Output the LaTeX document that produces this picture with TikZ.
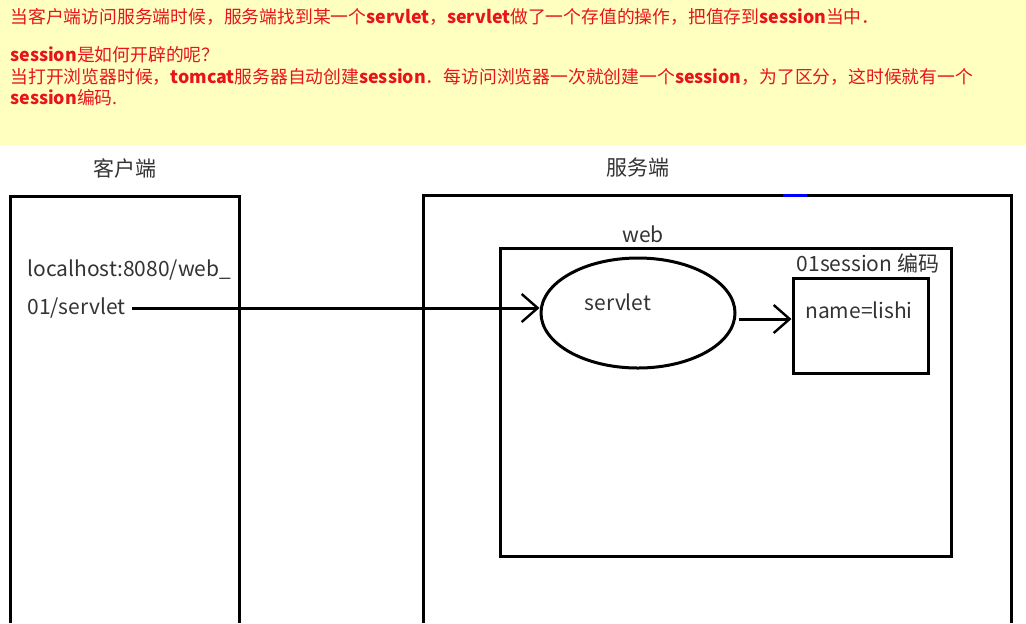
\documentclass[tikz,border=0pt]{standalone}
\usepackage{fontspec}
\setmainfont{Noto Sans CJK SC}
\newfontfamily\cjk{Noto Sans CJK SC}
\usetikzlibrary{arrows.meta,shapes.geometric}
\definecolor{notebg}{HTML}{FFFFC0}
\definecolor{notered}{HTML}{E8141C}
\newcommand{\kw}[1]{{\bfseries #1}}
\tikzset{
  box/.style={draw, line width=1.5pt},
  lbl/.style={font=\fontsize{10.5}{12}\selectfont, text=black!80, inner sep=0pt},
  note/.style={font=\fontsize{8.9}{10}\selectfont, text=notered, inner sep=0pt, anchor=west},
  link/.style={line width=1.5pt, -{Straight Barb[length=8pt,width=14pt,line width=1.2pt]}}
}
\begin{document}
\begin{tikzpicture}[x=0.5pt,y=-0.5pt]
  \useasboundingbox (0,0) rectangle (1026,623);
  \fill[notebg] (0,0) rectangle (1026,145);

  % note text
  \node[note] (n1) at (10,17) {当客户端访问服务端时候，服务端找到某一个\kw{servlet}，\kw{servlet}做了一个存值的操作，把值存到\kw{session}当中．};
  \node[note] (n2) at (10,55) {\kw{session}是如何开辟的呢？};
  \node[note] (n3) at (10,77) {当打开浏览器时候，\kw{tomcat}服务器自动创建\kw{session}．每访问浏览器一次就创建一个\kw{session}，为了区分，这时候就有一个};
  \node[note] (n4) at (10,98) {\kw{session}编码.};

  % client
  \node[lbl] (clientlbl) at (125,168) {客户端};
  \draw[line width=1.5pt] (10,623) -- (10,196) -- (239,196) -- (239,623);
  \node[lbl, anchor=west] (url1) at (27,270) {localhost:8080/web\_};
  \node[lbl, anchor=west] (url2) at (27,308) {01/servlet};

  % server
  \node[lbl] (serverlbl) at (638,168) {服务端};
  \draw[line width=1.5pt] (423,623) -- (423,195) -- (1011,195) -- (1011,623);
  \draw[blue, line width=1.5pt] (783,195) -- (807,195);
  \node[lbl] (weblbl) at (643,234) {web};
  \draw[box] (500,248) rectangle (951,556);
  \node[lbl] (sidlbl) at (868,263) {01session 编码};
  \node[box, minimum width=67.5pt, minimum height=47.5pt] (session) at (860.5,325.5) {};
  \node[lbl] (attr) at (859,310) {name=lishi};
  \node[box, ellipse, minimum width=97pt, minimum height=55pt] (servlet) at (638,313) {};
  \node[lbl] (servletlbl) at (618,302) {servlet};

  % requests
  \draw[link] (url2.east) ++(6,0) coordinate (start) -- (servlet.west |- start);
  \draw[link] (servlet.east) ++(2,6) coordinate (mid) -- (session.west |- mid);
\end{tikzpicture}
\end{document}
